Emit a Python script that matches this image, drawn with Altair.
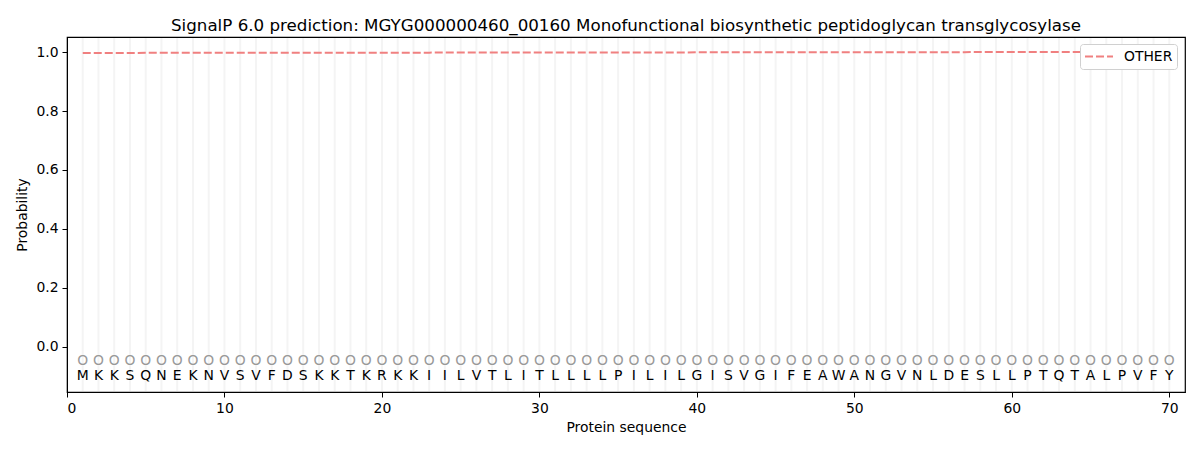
import altair as alt
import pandas as pd

sequence = list("MKKSQNEKNVSVFDSKKTKRKKIILVTLITLLLLPILILGISVGIFEAWANGVNLDESLLPTQTALPVFY")
positions = list(range(1, len(sequence) + 1))
prob_other = [
    0.9970, 0.9970, 0.9971, 0.9971, 0.9972, 0.9972, 0.9972, 0.9973, 0.9973, 0.9974,
    0.9974, 0.9975, 0.9975, 0.9976, 0.9976, 0.9977, 0.9977, 0.9978, 0.9978, 0.9979,
    0.9979, 0.9980, 0.9980, 0.9981, 0.9981, 0.9982, 0.9982, 0.9983, 0.9983, 0.9984,
    0.9984, 0.9985, 0.9985, 0.9986, 0.9986, 0.9987, 0.9987, 0.9988, 0.9988, 0.9989,
    0.9989, 0.9990, 0.9990, 0.9991, 0.9991, 0.9992, 0.9992, 0.9993, 0.9993, 0.9994,
    0.9994, 0.9995, 0.9995, 0.9996, 0.9996, 0.9997, 0.9997, 0.9998, 0.9998, 0.9999,
    0.9999, 0.9999, 1.0000, 1.0000, 1.0000, 1.0000, 1.0000, 1.0000, 1.0000, 1.0000,
]
marker_labels = ["O"] * len(sequence)

df = pd.DataFrame({
    "pos": positions,
    "aa": sequence,
    "mark": marker_labels,
    "prob": prob_other,
    "series": ["OTHER"] * len(sequence),
})

FONT = "DejaVu Sans"
xscale = alt.Scale(domain=[0, 71], nice=False, zero=False)
yscale = alt.Scale(domain=[-0.153, 1.051], nice=False, zero=False)

base = alt.Chart(df)

grid = base.mark_rule(color="#f4f4f4", strokeWidth=2).encode(
    x=alt.X("pos:Q", scale=xscale,
            axis=alt.Axis(title="Protein sequence", values=[0, 10, 20, 30, 40, 50, 60, 70],
                          format="d", grid=False)),
    y=alt.datum(1.048, scale=yscale),
    y2=alt.datum(-0.150),
)

line = base.mark_line(strokeWidth=2, strokeDash=[8, 3]).encode(
    x=alt.X("pos:Q", scale=xscale),
    y=alt.Y("prob:Q", scale=yscale,
            axis=alt.Axis(title="Probability", values=[0, 0.2, 0.4, 0.6, 0.8, 1.0],
                          format=".1f", grid=False)),
    color=alt.Color("series:N",
                    scale=alt.Scale(domain=["OTHER"], range=["#f08080"]),
                    legend=alt.Legend(title=None, orient="none", legendX=1013, legendY=7,
                                      symbolType="stroke", symbolDash=[8, 3],
                                      symbolStrokeWidth=2, symbolSize=784,
                                      clipHeight=17,
                                      strokeColor="#d0d0d0", fillColor="white",
                                      cornerRadius=3, padding=4,
                                      labelFont=FONT, labelFontSize=13.9,
                                      labelColor="black", labelOffset=10)),
)

markers = base.mark_text(font=FONT, fontSize=13.9, color="#999999", baseline="middle").encode(
    x=alt.X("pos:Q", scale=xscale),
    y=alt.Y("y:Q", scale=yscale),
    text="mark:N",
).transform_calculate(y="-0.047")

letters = base.mark_text(font=FONT, fontSize=13.9, color="black", baseline="middle").encode(
    x=alt.X("pos:Q", scale=xscale),
    y=alt.Y("y:Q", scale=yscale),
    text="aa:N",
).transform_calculate(y="-0.098")

chart = alt.layer(grid, line, markers, letters).properties(
    width=1118,
    height=355,
    title=alt.TitleParams(
        "SignalP 6.0 prediction: MGYG000000460_00160 Monofunctional biosynthetic peptidoglycan transglycosylase",
        font=FONT, fontSize=16.7, fontWeight="normal", color="black", offset=2,
    ),
    autosize=alt.AutoSizeParams(type="none"),
    padding={"left": 59, "top": 29, "right": 7, "bottom": 50},
).configure_view(
    stroke="black", strokeWidth=1.2
).configure_axis(
    labelFont=FONT, labelFontSize=13.9, labelColor="black",
    titleFont=FONT, titleFontSize=13.9, titleFontWeight="normal", titleColor="black",
    domainColor="black", tickColor="black", tickSize=5, labelPadding=4,
).configure_axisX(titlePadding=6).configure_axisY(titlePadding=6)

chart.save("out.html", embed_options={"renderer": "svg", "actions": False})
